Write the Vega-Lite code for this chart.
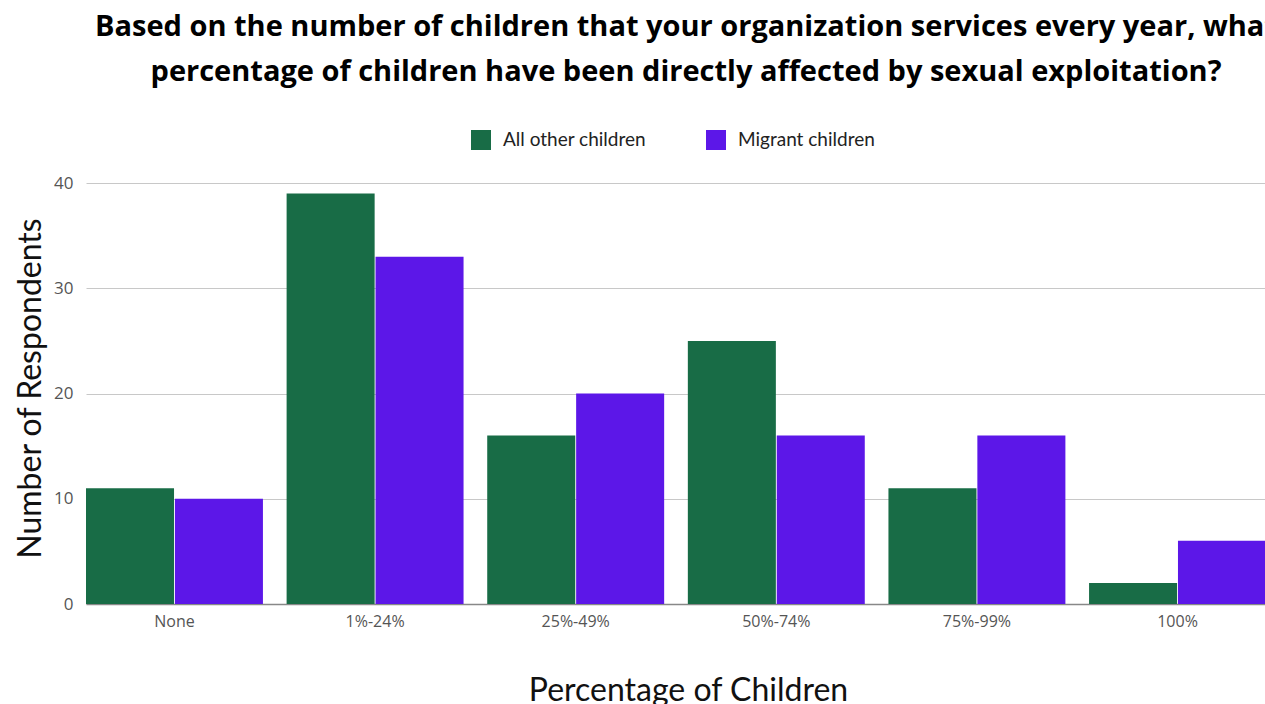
{
  "$schema": "https://vega.github.io/schema/vega-lite/v6.json",
  "width": 1180,
  "height": 421,
  "autosize": {"type": "none"},
  "padding": {"left": 86, "top": 183, "right": 0, "bottom": 100},
  "background": "white",
  "title": {
    "text": ["Based on the number of children that your organization services every year, what", "percentage of children have been directly affected by sexual exploitation?"],
    "font": "Open Sans",
    "fontSize": 29,
    "fontWeight": "bold",
    "color": "#000000",
    "lineHeight": 45,
    "anchor": "middle",
    "dx": 10,
    "offset": 14,
    "baseline": "bottom"
  },
  "data": {
    "values": [
      {"range": "None", "group": "All other children", "count": 11},
      {"range": "None", "group": "Migrant children", "count": 10},
      {"range": "1%-24%", "group": "All other children", "count": 39},
      {"range": "1%-24%", "group": "Migrant children", "count": 33},
      {"range": "25%-49%", "group": "All other children", "count": 16},
      {"range": "25%-49%", "group": "Migrant children", "count": 20},
      {"range": "50%-74%", "group": "All other children", "count": 25},
      {"range": "50%-74%", "group": "Migrant children", "count": 16},
      {"range": "75%-99%", "group": "All other children", "count": 11},
      {"range": "75%-99%", "group": "Migrant children", "count": 16},
      {"range": "100%", "group": "All other children", "count": 2},
      {"range": "100%", "group": "Migrant children", "count": 6}
    ]
  },
  "mark": {"type": "bar"},
  "encoding": {
    "x": {
      "field": "range",
      "type": "nominal",
      "sort": ["None", "1%-24%", "25%-49%", "50%-74%", "75%-99%", "100%"],
      "scale": {"paddingInner": 0.118, "paddingOuter": 0},
      "axis": {
        "title": "Percentage of Children",
        "titleFont": "Lato",
        "titleFontSize": 32,
        "titleFontWeight": "normal",
        "titleColor": "#111111",
        "titlePadding": 46,
        "titleX": 602,
        "labelAngle": 0,
        "labelFont": "Open Sans",
        "labelFontSize": 16,
        "labelColor": "#555555",
        "labelPadding": 9,
        "ticks": false,
        "domainColor": "#888888",
        "domainWidth": 1.5
      }
    },
    "xOffset": {
      "field": "group",
      "type": "nominal",
      "scale": {"paddingInner": 0.01, "paddingOuter": 0}
    },
    "y": {
      "field": "count",
      "type": "quantitative",
      "scale": {"domain": [0, 40]},
      "axis": {
        "title": "Number of Respondents",
        "titleFont": "Lato",
        "titleFontSize": 32,
        "titleFontWeight": "normal",
        "titleColor": "#111111",
        "titlePadding": 6,
        "titleY": 205,
        "values": [0, 10, 20, 30, 40],
        "labelFont": "Open Sans",
        "labelFontSize": 17,
        "labelColor": "#555555",
        "labelPadding": 13,
        "ticks": false,
        "domain": false,
        "gridColor": "#c8c8c8",
        "gridWidth": 1
      }
    },
    "color": {
      "field": "group",
      "type": "nominal",
      "scale": {"domain": ["All other children", "Migrant children"], "range": ["#186c46", "#5c17e8"]},
      "legend": {
        "title": null,
        "orient": "none",
        "direction": "horizontal",
        "legendX": 385,
        "legendY": -53,
        "symbolType": "square",
        "symbolSize": 400,
        "symbolOpacity": 1,
        "symbolStrokeWidth": 0,
        "labelFont": "Lato",
        "labelFontSize": 19,
        "labelColor": "#222222",
        "labelOffset": 12,
        "columnPadding": 59
      }
    }
  },
  "config": {"view": {"stroke": null}}
}
